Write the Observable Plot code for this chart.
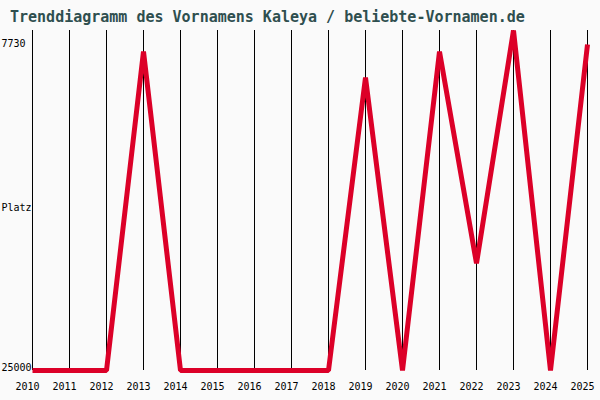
<!DOCTYPE html>
<html>
<head>
<meta charset="utf-8">
<script src="https://cdn.jsdelivr.net/npm/d3@7"></script>
<script src="https://cdn.jsdelivr.net/npm/@observablehq/plot@0.6"></script>
<style>
  html, body { margin: 0; padding: 0; background: #fafafa; }
  #wrap { width: 600px; height: 400px; background: #fafafa; position: relative; overflow: hidden; }
  #title { height: 30px; line-height: 34px; padding-left: 10px; font-family: "DejaVu Sans Mono", monospace; font-weight: bold; font-size: 15px; color: #2f4f4f; white-space: nowrap; }
  svg { display: block; overflow: visible; }
</style>
</head>
<body>
<div id="wrap">
  <div id="title">Trenddiagramm des Vornamens Kaleya / beliebte-Vornamen.de</div>
  <div id="chart"></div>
</div>
<script>
const years = [2010, 2011, 2012, 2013, 2014, 2015, 2016, 2017, 2018, 2019, 2020, 2021, 2022, 2023, 2024, 2025];
const ranks = [25000, 25000, 25000, 8800, 25000, 25000, 25000, 25000, 25000, 10120, 25000, 8800, 19560, 7730, 25000, 8440];
const yTop = 7730;
const yBottom = 25000;
const yTitle = "Platz";

const data = years.map((year, i) => ({year, rank: ranks[i]}));

const chart = Plot.plot({
  width: 600,
  height: 370,
  marginLeft: 32,
  marginRight: 13,
  marginTop: 0,
  marginBottom: 30,
  style: {background: "#fafafa", fontFamily: "DejaVu Sans Mono, monospace", fontSize: "10px", color: "black", overflow: "visible"},
  x: {domain: [years[0], years[years.length - 1]], label: null},
  y: {domain: [yBottom, yTop], label: null},
  marks: [
    Plot.ruleX(years, {stroke: "black", strokeWidth: 1}),
    Plot.axisX({ticks: years, tickFormat: d => String(d), tickSize: 0, tickPadding: 12, dx: -5, fontSize: 10, fill: "black", label: null}),
    Plot.axisY({ticks: [], tickSize: 0, label: null}),
    Plot.text([yTop], {y: d => d, text: d => String(d), frameAnchor: "left", textAnchor: "start", dx: -31, dy: 13, fill: "black", fontSize: 10}),
    Plot.text([yBottom], {y: d => d, text: d => String(d), frameAnchor: "left", textAnchor: "start", dx: -31, dy: -3, fill: "black", fontSize: 10}),
    Plot.text([yTitle], {text: d => d, frameAnchor: "left", textAnchor: "start", dx: -31, dy: 7, fill: "black", fontSize: 10}),
    Plot.line(data, {x: "year", y: "rank", stroke: "#dc0028", strokeWidth: 5, strokeLinejoin: "bevel", strokeLinecap: "butt", clip: false})
  ]
});
document.getElementById("chart").appendChild(chart);
</script>
</body>
</html>
